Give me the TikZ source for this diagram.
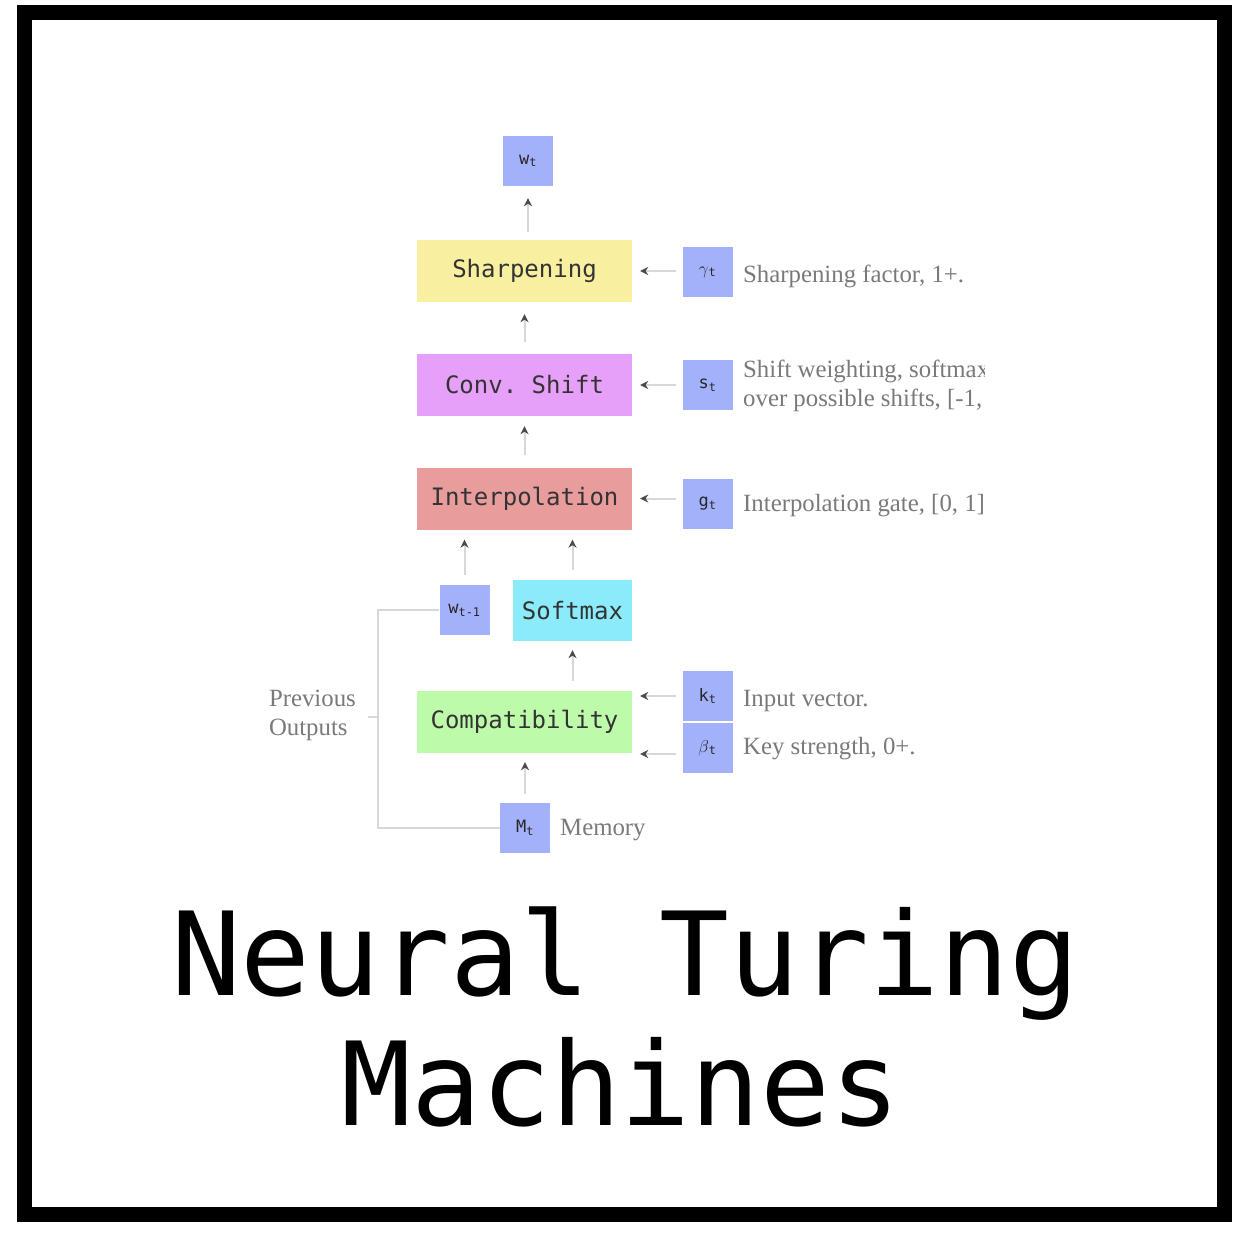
\documentclass[tikz,border=0pt]{standalone}
\usepackage{fontspec}
\setmainfont{Liberation Serif}
\setmonofont{DejaVu Sans Mono}
\usetikzlibrary{arrows.meta}
\definecolor{vb}{HTML}{A3B1FB}
\definecolor{cyel}{HTML}{F9EFA1}
\definecolor{cvio}{HTML}{E6A0F9}
\definecolor{cred}{HTML}{E89C9C}
\definecolor{ccya}{HTML}{8BEBFA}
\definecolor{cgrn}{HTML}{BDFBAA}
\definecolor{linec}{HTML}{D8D8D8}
\definecolor{sidec}{HTML}{7A7A7A}
\begin{document}
\begin{tikzpicture}[x=1pt,y=-1pt,
  op/.style={rectangle, inner sep=0pt, minimum width=215pt, minimum height=62pt,
    font=\fontsize{24}{26}\selectfont\ttfamily, text=black!80},
  var/.style={rectangle, fill=vb, inner sep=0pt, minimum width=50pt, minimum height=50pt,
    font=\fontsize{17}{19}\selectfont\ttfamily, text=black!85},
  side/.style={anchor=west, inner sep=0pt, font=\fontsize{24.8}{29}\selectfont, text=sidec, align=left},
  arr/.style={draw=linec, line width=2pt, -{Stealth[length=8pt,width=8pt,color=black!70]}},
  conn/.style={draw=linec, line width=2pt},
  ttl/.style={anchor=base, inner sep=0pt, font=\fontsize{116}{130}\selectfont\ttfamily}]
\useasboundingbox (0,0) rectangle (1245,1237);
\fill[white] (0,0) rectangle (1245,1237);
\draw[line width=15pt] (24.5,12.5) rectangle (1224.5,1214.5);

% operation boxes
\node[op, fill=cyel] (sharp) at (524.5,271) {Sharpening};
\node[op, fill=cvio] (conv) at (524.5,385) {Conv. Shift};
\node[op, fill=cred] (interp) at (524.5,498.5) {Interpolation};
\node[op, fill=ccya, minimum width=119pt, minimum height=61pt] (soft) at (572.5,610.5) {Softmax};
\node[op, fill=cgrn] (compat) at (524.5,722) {Compatibility};

% variables
\node[var] (wt) at (528,161) {w\textsubscript{t}};
\node[var] (gam) at (707.5,272) {$\gamma$\textsubscript{t}};
\node[var] (st) at (707.5,385) {s\textsubscript{t}};
\node[var] (gt) at (707.5,504) {g\textsubscript{t}};
\node[var] (wprev) at (464.5,610) {w\textsubscript{t-1}};
\node[var] (kt) at (707.5,696) {k\textsubscript{t}};
\node[var] (bt) at (707.5,748) {$\beta$\textsubscript{t}};
\node[var] (Mt) at (525,827.5) {M\textsubscript{t}};

% side texts (cropped like the reference)
\begin{scope}
\clip (0,0) rectangle (984,1237);
\node[side] (tgam) at (743,276) {Sharpening factor, 1+.};
\node[side] (tst) at (743,386) {Shift weighting, softmax\\over possible shifts, [-1, 1]};
\node[side] (tgt) at (743,506) {Interpolation gate, [0, 1]};
\node[side] (tkt) at (743,701) {Input vector.};
\node[side] (tbt) at (743,749) {Key strength, 0+.};
\node[side] (tmt) at (560,830) {Memory};
\end{scope}
\node[anchor=east, inner sep=0pt, font=\fontsize{24.8}{29}\selectfont, text=sidec, align=left] (prev) at (356,715) {Previous\\Outputs};

% vertical arrows
\draw[arr, shorten <=8pt, shorten >=12pt] (sharp.north -| wt) -- (wt.south);
\draw[arr, shorten <=12pt, shorten >=12pt] (conv.north) -- (sharp.south);
\draw[arr, shorten <=12pt, shorten >=10pt] (interp.north) -- (conv.south);
\draw[arr, shorten <=10pt, shorten >=10pt] (wprev.north) -- (wprev.north |- interp.south);
\draw[arr, shorten <=10pt, shorten >=10pt] (soft.north) -- (soft.north |- interp.south);
\draw[arr, shorten <=10pt, shorten >=9pt] (compat.north -| soft) -- (soft.south);
\draw[arr, shorten <=8pt, shorten >=9pt] (Mt.north) -- (Mt.north |- compat.south);

% horizontal arrows
\draw[arr, shorten <=6pt, shorten >=8pt] (gam.west |- sharp) -- (sharp.east);
\draw[arr, shorten <=6pt, shorten >=8pt] (st.west) -- (conv.east);
\draw[arr, shorten <=6pt, shorten >=8pt] (gt.west |- interp) -- (interp.east);
\draw[arr, shorten <=6pt, shorten >=8pt] (kt.west) -- (kt.west -| compat.east);
\draw[arr, shorten <=6pt, shorten >=8pt] ([yshift=-6pt]bt.west) -- ([yshift=-6pt]bt.west -| compat.east);

% previous outputs bracket
\coordinate (brk) at (378,717);
\coordinate (tick) at (368,717);
\draw[conn] (wprev.west) -| (brk) |- (Mt.west);
\draw[conn] (tick) -- (brk);

% title
\node[ttl] (t1) at (625,995) {Neural Turing};
\node[ttl] (t2) at (621,1125) {Machines};
\end{tikzpicture}
\end{document}
